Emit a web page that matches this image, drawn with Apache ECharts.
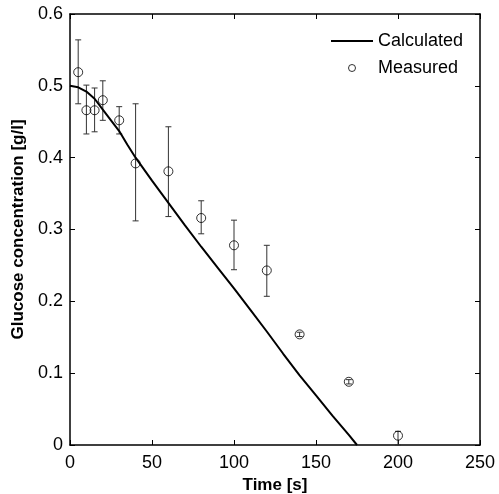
<!DOCTYPE html>
<html>
<head>
<meta charset="utf-8">
<script src="https://cdn.jsdelivr.net/npm/echarts@6/dist/echarts.min.js"></script>
<style>html,body{margin:0;padding:0;background:#fff;}#chart{width:499px;height:494px;}</style>
</head>
<body>
<div id="chart"></div>
<script>
// Calculated curve
var calcTime  = [0, 5, 10, 15, 20, 25, 30, 35, 40, 50, 60, 70, 80, 90, 100, 110, 120, 130, 140, 150, 160, 170, 175];
var calcValue = [0.500, 0.498, 0.492, 0.482, 0.467, 0.452, 0.437, 0.418, 0.400, 0.368, 0.337, 0.306, 0.276, 0.247, 0.218, 0.188, 0.158, 0.127, 0.097, 0.069, 0.041, 0.014, 0.0];
// Measured points with error bars
var measTime  = [5, 10, 15, 20, 30, 40, 60, 80, 100, 120, 140, 170, 200];
var measValue = [0.519, 0.466, 0.466, 0.480, 0.452, 0.392, 0.381, 0.316, 0.278, 0.243, 0.154, 0.088, 0.013];
var errLow    = [0.475, 0.433, 0.436, 0.452, 0.433, 0.312, 0.318, 0.294, 0.244, 0.207, 0.151, 0.085, 0.000];
var errHigh   = [0.564, 0.501, 0.497, 0.507, 0.471, 0.475, 0.443, 0.340, 0.313, 0.278, 0.157, 0.091, 0.019];
var xTicks = [0, 50, 100, 150, 200, 250];
var yTicks = [0, 0.1, 0.2, 0.3, 0.4, 0.5, 0.6];

var FONT = "'Liberation Sans', Arial, sans-serif";
var chart = echarts.init(document.getElementById('chart'), null, {renderer: 'canvas'});

function axisBase(pos, showLabel) {
  return {
    type: 'value',
    position: pos,
    axisLine: {show: true, onZero: false, lineStyle: {color: '#000', width: 1.5}},
    axisTick: {show: true, inside: true, length: 5, lineStyle: {color: '#000', width: 1}},
    splitLine: {show: false},
    axisLabel: {show: showLabel, color: '#000', fontSize: 18, fontFamily: FONT}
  };
}

var xb = axisBase('bottom', true);
xb.min = xTicks[0]; xb.max = xTicks[xTicks.length - 1]; xb.interval = xTicks[1] - xTicks[0];
xb.axisLabel.margin = 9;
xb.name = 'Time [s]'; xb.nameLocation = 'middle'; xb.nameGap = 28;
xb.nameTextStyle = {color: '#000', fontSize: 17, fontWeight: 'bold', fontFamily: FONT};
var xt = axisBase('top', false);
xt.min = xb.min; xt.max = xb.max; xt.interval = xb.interval;

var yl = axisBase('left', true);
yl.min = yTicks[0]; yl.max = yTicks[yTicks.length - 1]; yl.interval = 0.1;
yl.axisLabel.margin = 7;
yl.axisLabel.formatter = function (v) { return v === 0 ? '0' : v.toFixed(1); };
yl.name = 'Glucose concentration [g/l]'; yl.nameLocation = 'middle'; yl.nameGap = 43;
yl.nameTextStyle = {color: '#000', fontSize: 17, fontWeight: 'bold', fontFamily: FONT};
var yr = axisBase('right', false);
yr.min = yl.min; yr.max = yl.max; yr.interval = yl.interval;

var calcData = calcTime.map(function (t, i) { return [t, calcValue[i]]; });
var measData = measTime.map(function (t, i) { return [t, measValue[i]]; });
var errData = measTime.map(function (t, i) { return [t, errLow[i], errHigh[i]]; });

chart.setOption({
  animation: false,
  backgroundColor: '#fff',
  textStyle: {fontFamily: FONT},
  grid: {left: 70, right: 19, top: 14, bottom: 49, containLabel: false, outerBoundsMode: 'none'},
  xAxis: [xb, xt],
  yAxis: [yl, yr],
  legend: {
    orient: 'vertical', left: 326, top: 27,
    itemWidth: 42, itemHeight: 7, itemGap: 9,
    textStyle: {fontSize: 18, color: '#000', fontFamily: FONT},
    data: [
      {name: 'Calculated', icon: 'path://M0,0 L42,0 L42,2 L0,2 Z', itemStyle: {color: '#000'}},
      {name: 'Measured', icon: 'circle', itemStyle: {color: 'transparent', borderColor: '#000', borderWidth: 1}}
    ]
  },
  series: [
    {
      name: 'Calculated', type: 'line', xAxisIndex: 0, yAxisIndex: 0,
      data: calcData, symbol: 'none', smooth: false,
      lineStyle: {color: '#000', width: 2}, itemStyle: {color: '#000'}
    },
    {
      name: 'errorbars', type: 'custom', xAxisIndex: 0, yAxisIndex: 0,
      data: errData, encode: {x: 0, y: [1, 2]},
      renderItem: function (params, api) {
        var x = api.value(0);
        var top = api.coord([x, api.value(2)]);
        var bot = api.coord([x, api.value(1)]);
        var hw = 3;
        var st = {stroke: '#333', lineWidth: 1};
        return {
          type: 'group',
          children: [
            {type: 'line', shape: {x1: top[0], y1: top[1], x2: bot[0], y2: bot[1]}, style: st},
            {type: 'line', shape: {x1: top[0] - hw, y1: top[1], x2: top[0] + hw, y2: top[1]}, style: st},
            {type: 'line', shape: {x1: bot[0] - hw, y1: bot[1], x2: bot[0] + hw, y2: bot[1]}, style: st}
          ]
        };
      },
      z: 3
    },
    {
      name: 'Measured', type: 'scatter', xAxisIndex: 0, yAxisIndex: 0,
      data: measData, symbol: 'circle', symbolSize: 9,
      itemStyle: {color: 'transparent', borderColor: '#000', borderWidth: 1},
      z: 4
    }
  ]
});
</script>
</body>
</html>
